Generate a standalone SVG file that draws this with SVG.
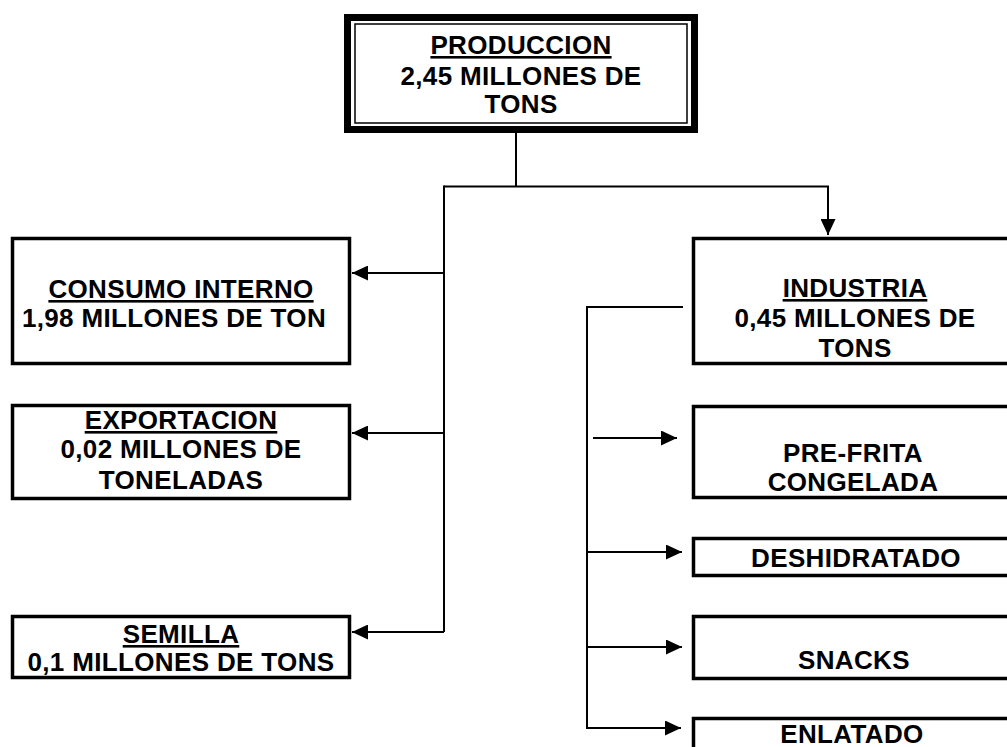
<svg xmlns="http://www.w3.org/2000/svg" width="1007" height="747" viewBox="0 0 1007 747">
<style>
.box{fill:#fff;stroke:#000;stroke-width:3.5}
.t{font-family:"Liberation Sans",Arial,sans-serif;font-weight:bold;font-size:26px;letter-spacing:0.35px;fill:#000;text-anchor:middle}
.u{text-decoration:underline}
.c{fill:none;stroke:#000;stroke-width:2}
</style>
<defs>
<marker id="ah" markerUnits="userSpaceOnUse" markerWidth="17" markerHeight="15" refX="16" refY="7.5" orient="auto">
<path d="M0,0 L16,7.5 L0,15 z" fill="#000"/>
</marker>
</defs>
<rect width="1007" height="747" fill="#fff"/>
<g id="connectors">
<path class="c" d="M516,133 V186.5"/>
<path class="c" d="M444,186.5 H828 V235" marker-end="url(#ah)"/>
<path class="c" d="M444,185.5 V632"/>
<path class="c" d="M444,273 H352" marker-end="url(#ah)"/>
<path class="c" d="M444,433 H352" marker-end="url(#ah)"/>
<path class="c" d="M444,632 H352" marker-end="url(#ah)"/>
<path class="c" d="M683,307 H587 V728 H681" marker-end="url(#ah)"/>
<path class="c" d="M593,438 H677" marker-end="url(#ah)"/>
<path class="c" d="M587,552 H682" marker-end="url(#ah)"/>
<path class="c" d="M587,647 H682" marker-end="url(#ah)"/>
</g>
<g id="produccion">
<rect x="347.5" y="17.5" width="347" height="112" fill="#fff" stroke="#000" stroke-width="7"/>
<rect x="355" y="24" width="332" height="99" fill="none" stroke="#000" stroke-width="1.5"/>
<text class="t u" x="521" y="54">PRODUCCION</text>
<text class="t" x="521" y="85">2,45 MILLONES DE</text>
<text class="t" x="521" y="113">TONS</text>
</g>
<g id="consumo">
<rect class="box" x="12.5" y="238.5" width="337" height="125"/>
<text class="t u" x="181" y="298">CONSUMO INTERNO</text>
<text class="t" x="174" y="327">1,98 MILLONES DE TON</text>
</g>
<g id="exportacion">
<rect class="box" x="12.5" y="405.5" width="337" height="93"/>
<text class="t u" x="181" y="429">EXPORTACION</text>
<text class="t" x="181" y="458">0,02 MILLONES DE</text>
<text class="t" x="181" y="489">TONELADAS</text>
</g>
<g id="semilla">
<rect class="box" x="12.5" y="616.5" width="337" height="61"/>
<text class="t u" x="181" y="643">SEMILLA</text>
<text class="t" x="181" y="671">0,1 MILLONES DE TONS</text>
</g>
<g id="industria">
<rect class="box" x="693.5" y="238.5" width="323" height="125"/>
<text class="t u" x="855" y="297">INDUSTRIA</text>
<text class="t" x="855" y="327">0,45 MILLONES DE</text>
<text class="t" x="855" y="357">TONS</text>
</g>
<g id="prefrita">
<rect class="box" x="693.5" y="406.5" width="323" height="91"/>
<text class="t" x="853" y="462">PRE-FRITA</text>
<text class="t" x="853" y="491">CONGELADA</text>
</g>
<g id="deshidratado">
<rect class="box" x="693.5" y="538.5" width="323" height="37"/>
<text class="t" x="856" y="567">DESHIDRATADO</text>
</g>
<g id="snacks">
<rect class="box" x="693.5" y="616.5" width="323" height="62"/>
<text class="t" x="854" y="669">SNACKS</text>
</g>
<g id="enlatado">
<rect class="box" x="693.5" y="718.5" width="323" height="60"/>
<text class="t" x="852" y="743">ENLATADO</text>
</g>
</svg>
